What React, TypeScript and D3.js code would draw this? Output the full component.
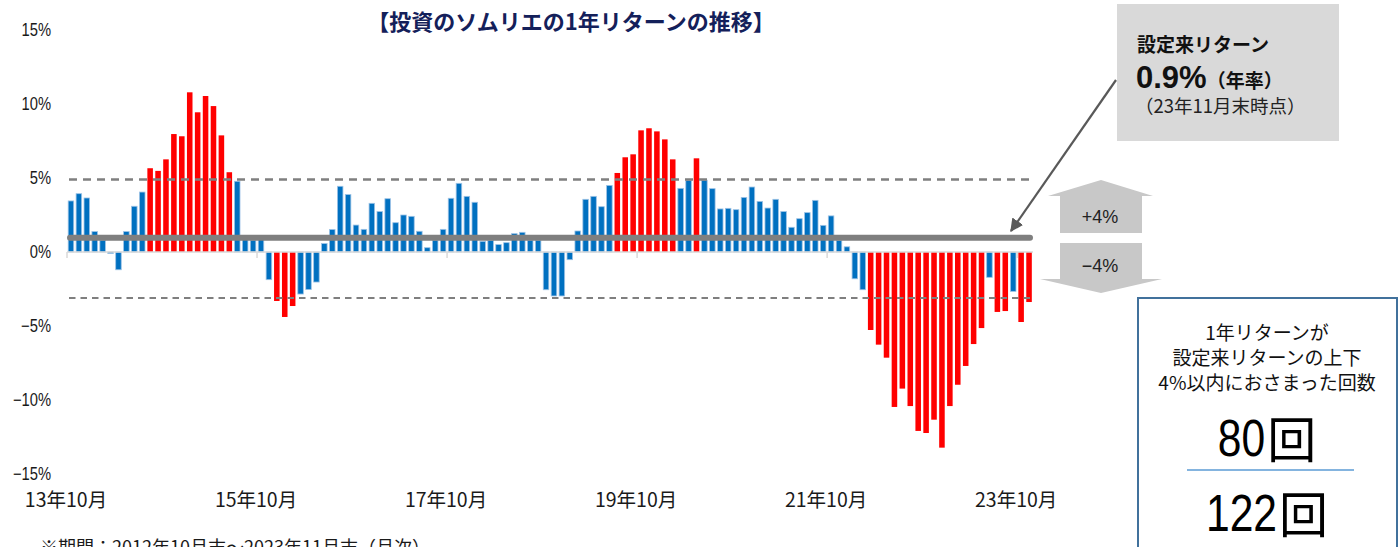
import React from 'react';
import * as d3 from 'd3';

// ---- data ----
const startYear = 2013;
const startMonth = 10;
const returns1y: number[] = [
  3.45, 3.94, 3.65, 1.38, 0.8, -0.1, -1.2, 1.38, 3.09, 4.05,
  5.66, 5.48, 6.26, 7.97, 7.82, 10.79, 9.44, 10.54, 9.86, 7.88,
  5.39, 4.78, 0.9, 0.8, 0.9, -1.87, -3.31, -4.39, -3.65, -2.84,
  -2.54, -2.03, 0.57, 1.52, 4.44, 3.88, 1.82, 1.53, 3.29, 2.73,
  3.6, 1.98, 2.5, 2.41, 1.4, 0.29, 0.8, 1.53, 3.63, 4.64,
  3.76, 3.36, 0.72, 0.79, 0.5, 0.63, 1.24, 1.33, 0.8, 0.8,
  -2.55, -2.97, -2.97, -0.52, 1.42, 3.56, 3.76, 3.06, 4.5, 5.34,
  6.4, 6.6, 8.22, 8.36, 8.15, 7.61, 6.26, 4.3, 4.84, 6.33,
  4.85, 4.28, 2.91, 2.95, 2.86, 3.69, 4.39, 3.42, 2.97, 3.56,
  2.73, 1.67, 2.25, 2.66, 3.49, 1.8, 2.44, 0.79, 0.35, -1.81,
  -2.55, -5.27, -6.26, -7.14, -10.47, -9.23, -10.41, -12.09, -12.23, -11.33,
  -13.22, -10.41, -8.97, -7.7, -6.22, -5.14, -1.71, -4.05, -3.99, -2.66,
  -4.73, -3.38,
];
const months: string[] = returns1y.map((_, i) => {
  const m = startMonth - 1 + i;
  return `${(startYear + Math.floor(m / 12)) % 100}年${(m % 12) + 1}月`;
});
const xTickLabels = ['13年10月', '15年10月', '17年10月', '19年10月', '21年10月', '23年10月'];
const yTicks = [15, 10, 5, 0, -5, -10, -15];
const sinceInception = 0.9;
const bandWidthPct = 4;
const title = '【投資のソムリエの1年リターンの推移】';
const note = '※期間：2012年10月末～2023年11月末（月次）';
const countInside = 80;
const countTotal = 122;

const W = 1400;
const H = 547;
const SANS = '"Liberation Sans", Arial, sans-serif';
const JP = '"Noto Sans CJK JP", "Noto Sans", sans-serif';
const NARROW_K = 0.82;

function CountLabel({ value, cx, cy }: { value: number; cx: number; cy: number }) {
  const digitSize = 52;
  const kanjiSize = 49;
  const s = String(value);
  const digitsW = s.length * 0.556 * digitSize * NARROW_K;
  const total = digitsW + kanjiSize + 2;
  const x0 = cx - total / 2;
  const base = cy + 0.358 * digitSize;
  return (
    <g>
      <text
        transform={`translate(${x0},${base}) scale(${NARROW_K},1)`}
        fontFamily={SANS}
        fontSize={digitSize}
        fill="#000"
      >
        {s}
      </text>
      <text x={x0 + digitsW + 2} y={base + 2} fontFamily={JP} fontSize={kanjiSize} fill="#000">
        回
      </text>
    </g>
  );
}

export default function App() {
  const x = d3
    .scaleBand<string>()
    .domain(months)
    .range([67, 1033])
    .paddingInner(0.3)
    .paddingOuter(0.15);
  const step = x.step();
  const y = d3.scaleLinear().domain([-15, 15]).range([474, 30]);
  const y0 = y(0);
  const upper = sinceInception + bandWidthPct;
  const lower = sinceInception - bandWidthPct;

  const tickIdx = xTickLabels.map((l) => months.indexOf(l));

  return (
    <svg
      width={W}
      height={H}
      style={{ position: 'absolute', left: 0, top: 0, display: 'block', background: '#fff' }}
    >
      {/* title */}
      <text x={571} y={30} textAnchor="middle" fontFamily={JP} fontWeight={700} fontSize={22} fill="#14205a">
        {title}
      </text>

      {/* y axis labels */}
      {yTicks.map((t) => (
        <text
          key={t}
          transform={`translate(51,${y(t)}) scale(${NARROW_K},1)`}
          dy="0.36em"
          textAnchor="end"
          fontFamily={SANS}
          fontSize={18}
          fill="#1a1a1a"
        >
          {t < 0 ? `−${Math.abs(t)}%` : `${t}%`}
        </text>
      ))}

      {/* bars */}
      {returns1y.map((v, i) => {
        const red = Math.abs(v - sinceInception) > bandWidthPct;
        const bx = x(months[i])!;
        const top = Math.min(y(v), y0);
        const h = Math.abs(y(v) - y0);
        return (
          <rect
            key={i}
            x={bx}
            y={top}
            width={x.bandwidth()}
            height={h}
            fill={red ? '#ff0000' : '#0070c0'}
            stroke={red ? 'none' : '#9dc3e6'}
            strokeWidth={red ? 0 : 0.8}
          />
        );
      })}

      {/* zero axis */}
      <line x1={67} x2={1033} y1={y0} y2={y0} stroke="#d9d9d9" strokeWidth={1.5} />
      {tickIdx.map((k, i) => (
        <line key={i} x1={67 + k * step} x2={67 + k * step} y1={y0} y2={y0 + 6} stroke="#d9d9d9" strokeWidth={1.5} />
      ))}

      {/* dashed band lines */}
      <line x1={69} x2={1033} y1={y(upper)} y2={y(upper)} stroke="#7f7f7f" strokeWidth={2.5} strokeDasharray="8,6" />
      <line x1={69} x2={1033} y1={y(lower)} y2={y(lower)} stroke="#7f7f7f" strokeWidth={2} strokeDasharray="6.5,5" />

      {/* since inception line */}
      <line x1={70} x2={1030} y1={y(sinceInception) - 1} y2={y(sinceInception) - 1} stroke="#7f7f7f" strokeWidth={6} strokeLinecap="round" />

      {/* x labels */}
      {tickIdx.map((k, i) => (
        <text key={i} x={67 + k * step - 1} y={507} textAnchor="middle" fontFamily={JP} fontSize={19.5} fill="#1a1a1a">
          {xTickLabels[i]}
        </text>
      ))}

      {/* note */}
      <text x={40} y={554} fontFamily={JP} fontSize={18} fill="#1a1a1a">
        {note}
      </text>

      {/* callout box */}
      <rect x={1117} y={4} width={222} height={137} fill="#d9d9d9" />
      <text x={1137} y={52} fontFamily={JP} fontWeight={700} fontSize={19} fill="#111">
        設定来リターン
      </text>
      <text x={1136} y={88} fontFamily={JP} fontWeight={700} fill="#111">
        <tspan fontFamily={SANS} fontSize={31}>0.9%</tspan>
        <tspan fontSize={19}>（年率）</tspan>
      </text>
      <text x={1135} y={113} fontFamily={JP} fontSize={18.5} fill="#222">
        （23年11月末時点）
      </text>

      {/* callout arrow */}
      <defs>
        <marker id="ah" viewBox="0 0 10 10" refX={9} refY={5} markerWidth={6} markerHeight={6} orient="auto">
          <path d="M0,0 L10,5 L0,10 Z" fill="#595959" />
        </marker>
      </defs>
      <line x1={1116} y1={80} x2={1011} y2={231} stroke="#595959" strokeWidth={2.2} markerEnd="url(#ah)" />

      {/* +4% / -4% block arrows */}
      <polygon points="1101,180 1153,196 1142,196 1142,233 1060,233 1060,196 1048,196" fill="#c8c8c8" />
      <text x={1100} y={217} dy="0.35em" textAnchor="middle" fontFamily={SANS} fontSize={18} fill="#222">
        +4%
      </text>
      <polygon points="1060,243 1142,243 1142,279 1162,279 1101,293 1040,279 1060,279" fill="#c8c8c8" />
      <text x={1100} y={266} dy="0.35em" textAnchor="middle" fontFamily={SANS} fontSize={18} fill="#222">
        −4%
      </text>

      {/* right count box */}
      <rect x={1138} y={298} width={259} height={270} fill="#fff" stroke="#41719c" strokeWidth={2} />
      <text x={1267} y={333} dy="0.35em" textAnchor="middle" fontFamily={JP} fontSize={19} fill="#111">
        1年リターンが
      </text>
      <text x={1267} y={358} dy="0.35em" textAnchor="middle" fontFamily={JP} fontSize={19} fill="#111">
        設定来リターンの上下
      </text>
      <text x={1267} y={383} dy="0.35em" textAnchor="middle" fontFamily={JP} fontSize={19} fill="#111">
        4%以内におさまった回数
      </text>
      <CountLabel value={countInside} cx={1267} cy={437} />
      <line x1={1187} x2={1354} y1={470} y2={470} stroke="#5b9bd5" strokeWidth={1.3} />
      <CountLabel value={countTotal} cx={1267} cy={512} />
    </svg>
  );
}
